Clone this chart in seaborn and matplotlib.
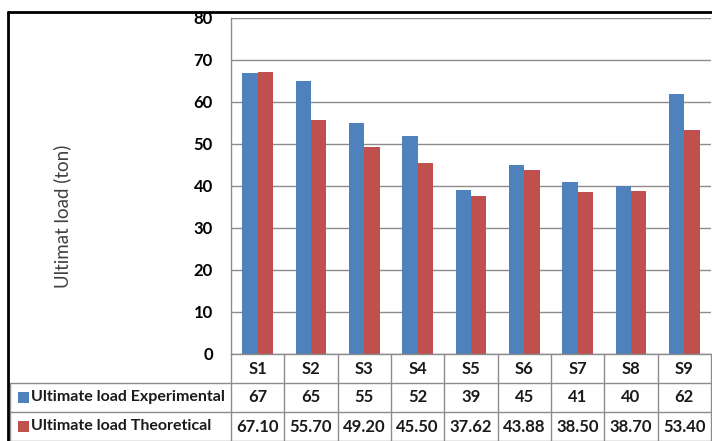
import pandas as pd
import seaborn as sns
import matplotlib.pyplot as plt
from matplotlib.transforms import blended_transform_factory
from matplotlib.lines import Line2D
from matplotlib.patches import Rectangle

# veriler
specimens = ['S1', 'S2', 'S3', 'S4', 'S5', 'S6', 'S7', 'S8', 'S9']
experimental = [67, 65, 55, 52, 39, 45, 41, 40, 62]
theoretical = [67.10, 55.70, 49.20, 45.50, 37.62, 43.88, 38.50, 38.70, 53.40]
exp_labels = ['67', '65', '55', '52', '39', '45', '41', '40', '62']
theo_labels = ['67.10', '55.70', '49.20', '45.50', '37.62', '43.88', '38.50', '38.70', '53.40']
series_names = ['Ultimate load Experimental', 'Ultimate load Theoretical']
colors = ['#4F81BD', '#C0504D']

df = pd.DataFrame({
    'Specimen': specimens * 2,
    'Load': experimental + theoretical,
    'Series': [series_names[0]] * len(specimens) + [series_names[1]] * len(specimens)
})

sns.set_style('white')
plt.rcParams['font.family'] = ['Lato', 'DejaVu Sans']

W, H = 712, 441
fig = plt.figure(figsize=(W / 100, H / 100), dpi=100)
ax = fig.add_axes([231 / W, 1 - 354 / H, 480 / W, 336 / H])

sns.barplot(data=df, x='Specimen', y='Load', hue='Series', palette=colors,
            width=0.57, gap=0, saturation=1, legend=False, linewidth=0, ax=ax)

grid_c = '#8c8c8c'
ax.set_ylim(0, 80)
ax.set_xlim(-0.5, len(specimens) - 0.5)
ax.set_yticks(range(0, 81, 10))
ax.yaxis.grid(True, color=grid_c, linewidth=1)
ax.set_axisbelow(True)
ax.set_xticks([])
ax.set_xlabel('')
ax.set_ylabel('')
for s in ['top', 'right']:
    ax.spines[s].set_visible(False)
for s in ['left', 'bottom']:
    ax.spines[s].set_color(grid_c)
    ax.spines[s].set_linewidth(1)
ax.tick_params(axis='y', length=5, color=grid_c, labelsize=12, pad=8, labelcolor='#000000')
for t in ax.get_yticklabels():
    t.set_fontweight('bold')

fig.text(62 / W, 1 - 216 / H, 'Ultimat load (ton)', rotation=90, ha='center', va='center',
         fontsize=13.5, color='#404040')

# tablo
tr = blended_transform_factory(ax.transData, fig.transFigure)
def fy(y):
    return 1 - y / H

row_tops = [354, 383, 412, 441]
for y in row_tops[1:]:
    fig.add_artist(Line2D([10 / W, 711 / W], [fy(y), fy(y)], transform=fig.transFigure,
                          color=grid_c, linewidth=1))
for i in range(len(specimens) + 1):
    fig.add_artist(Line2D([i - 0.5, i - 0.5], [fy(354), fy(441)], transform=tr,
                          color=grid_c, linewidth=1))
fig.add_artist(Line2D([10 / W, 10 / W], [fy(383), fy(441)], transform=fig.transFigure,
                      color=grid_c, linewidth=1))

tf = dict(ha='center', va='center', fontsize=12, fontweight='bold', color='#1a1a1a')
for i, sp in enumerate(specimens):
    fig.text(i, fy(368.5), sp, transform=tr, **tf)
    fig.text(i, fy(397.5), exp_labels[i], transform=tr, **tf)
    fig.text(i, fy(426.5), theo_labels[i], transform=tr, **tf)

for k, (name, c) in enumerate(zip(series_names, colors)):
    yc = 397.5 + 29 * k
    fig.add_artist(Rectangle((18 / W, fy(yc + 5)), 11 / W, 11 / H, transform=fig.transFigure,
                             facecolor=c, edgecolor='none'))
    fig.text(31 / W, fy(yc), name, ha='left', va='center', fontsize=11.5, fontweight='bold',
             color='#1a1a1a')

# siyah çerçeve
fig.add_artist(Line2D([8 / W, 8 / W], [fy(12), 0], transform=fig.transFigure, color='black', linewidth=2))
fig.add_artist(Line2D([8 / W, 1], [fy(12), fy(12)], transform=fig.transFigure, color='black', linewidth=2))

fig.savefig('out.png', dpi=100)
